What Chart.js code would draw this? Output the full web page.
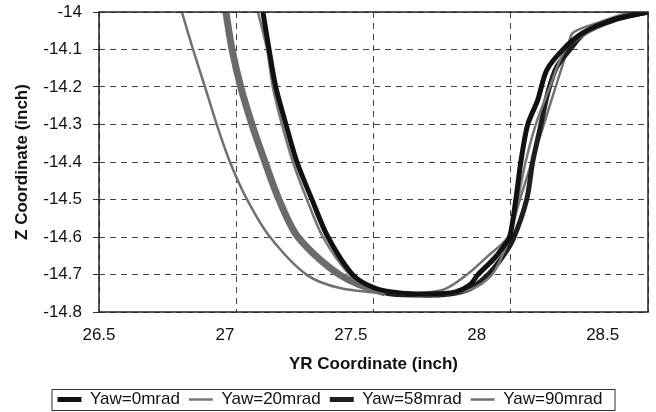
<!DOCTYPE html>
<html>
<head>
<meta charset="utf-8">
<script src="https://cdn.jsdelivr.net/npm/chart.js@4.4.0/dist/chart.umd.min.js"></script>
<style>
  html, body { margin: 0; padding: 0; background: #fff; }
</style>
</head>
<body>
<canvas id="yawChart" width="656" height="412"></canvas>
<script>
// Wheel path profiles (YR vs Z) for four yaw angles
const seriesNames = ['Yaw=0mrad', 'Yaw=20mrad', 'Yaw=58mrad', 'Yaw=90mrad'];
const xTicks = [26.5, 27, 27.5, 28, 28.5];

const yaw0X = [27.151, 27.175, 27.202, 27.242, 27.286, 27.345, 27.409, 27.508, 27.595, 27.694, 27.813, 27.913,
               27.972, 28.004, 28.071, 28.111, 28.131, 28.155, 28.175, 28.202, 28.242, 28.278, 28.341, 28.421, 28.540, 28.679];
const yaw0Z = [-14.000, -14.099, -14.200, -14.299, -14.400, -14.499, -14.600, -14.701, -14.736, -14.749, -14.752, -14.747,
               -14.728, -14.701, -14.656, -14.621, -14.600, -14.501, -14.400, -14.301, -14.235, -14.155, -14.101, -14.056, -14.021, -14.000];

const yaw20X = [27.131, 27.167, 27.190, 27.226, 27.270, 27.325, 27.389, 27.496, 27.583, 27.694, 27.853, 27.972,
                28.060, 28.111, 28.131, 28.163, 28.194, 28.234, 28.290, 28.353, 28.440, 28.548, 28.679];
const yaw20Z = [-14.000, -14.099, -14.200, -14.299, -14.400, -14.499, -14.600, -14.701, -14.736, -14.752, -14.755, -14.741,
                -14.701, -14.635, -14.600, -14.501, -14.400, -14.301, -14.200, -14.099, -14.056, -14.021, -14.003];

const yaw58X = [27.004, 27.028, 27.063, 27.107, 27.159, 27.214, 27.290, 27.456, 27.635, 27.774, 27.893, 27.972,
                28.044, 28.099, 28.143, 28.198, 28.222, 28.250, 28.282, 28.317, 28.369, 28.429, 28.548, 28.679];
const yaw58Z = [-14.000, -14.099, -14.200, -14.299, -14.400, -14.499, -14.600, -14.701, -14.749, -14.755, -14.752, -14.739,
                -14.701, -14.656, -14.608, -14.501, -14.400, -14.315, -14.216, -14.147, -14.101, -14.056, -14.021, -14.000];

const yaw90X = [26.829, 26.873, 26.921, 26.968, 27.020, 27.087, 27.179, 27.325, 27.456, 27.627, 27.774, 27.873,
                27.960, 28.044, 28.123, 28.171, 28.218, 28.266, 28.313, 28.361, 28.381, 28.488, 28.607, 28.679];
const yaw90Z = [-14.000, -14.099, -14.200, -14.301, -14.400, -14.499, -14.600, -14.701, -14.736, -14.749, -14.749, -14.739,
                -14.701, -14.651, -14.600, -14.501, -14.400, -14.301, -14.200, -14.099, -14.056, -14.027, -14.000, -13.987];

const pairs = (xs, zs) => xs.map((x, i) => ({ x: x, y: zs[i] }));

const tickFont = { family: "'Liberation Sans', Arial, sans-serif", size: 17 };
const titleFont = { family: "'Liberation Sans', Arial, sans-serif", size: 17, weight: 'bold' };

// box around the plot area
const plotFrame = {
    id: 'plotFrame',
    afterDatasetsDraw(chart) {
        const { ctx, chartArea: a } = chart;
        ctx.save();
        ctx.strokeStyle = '#222';
        ctx.lineWidth = 1.5;
        ctx.strokeRect(a.left, a.top, a.right - a.left, a.bottom - a.top);
        ctx.restore();
    }
};

// box around the legend entries
const legendFrame = {
    id: 'legendFrame',
    afterDraw(chart) {
        const boxes = chart.legend.legendHitBoxes;
        if (!boxes || !boxes.length) return;
        const left = Math.min(...boxes.map(b => b.left)) - 6;
        const right = Math.max(...boxes.map(b => b.left + b.width)) + 12;
        const top = Math.min(...boxes.map(b => b.top)) - 2;
        const bottom = Math.max(...boxes.map(b => b.top + b.height)) + 2;
        const ctx = chart.ctx;
        ctx.save();
        ctx.strokeStyle = '#333';
        ctx.lineWidth = 1;
        ctx.strokeRect(left + 0.5, top + 0.5, right - left, bottom - top);
        ctx.restore();
    }
};

const ctx = document.getElementById('yawChart').getContext('2d');
const yawChart = new Chart(ctx, {
    type: 'line',
    data: {
        datasets: [{
            label: seriesNames[0],
            data: pairs(yaw0X, yaw0Z),
            borderColor: '#111',
            borderWidth: 5
        }, {
            label: seriesNames[1],
            data: pairs(yaw20X, yaw20Z),
            borderColor: '#777',
            borderWidth: 2.5
        }, {
            label: seriesNames[2],
            data: pairs(yaw58X, yaw58Z),
            borderColor: '#1e1e1e',
            borderWidth: 5,
            segment: {
                borderColor: c => c.p0.parsed.x < 27.62 ? '#6b6b6b' : '#1e1e1e',
                borderWidth: c => c.p0.parsed.x < 27.62 ? 7 : 5
            }
        }, {
            label: seriesNames[3],
            data: pairs(yaw90X, yaw90Z),
            borderColor: '#717171',
            borderWidth: 2.5
        }].map(ds => Object.assign(ds, {
            xAxisID: 'x',
            yAxisID: 'y',
            pointRadius: 0,
            fill: false,
            clip: 0,
            tension: 0.3
        }))
    },
    options: {
        responsive: false,
        animation: false,
        layout: {
            padding: { top: 12, right: 8, left: 12, bottom: 2 }
        },
        scales: {
            x: {
                type: 'linear',
                position: 'bottom',
                min: 26.5,
                max: 28.68,
                afterBuildTicks: scale => {
                    scale.ticks = xTicks.map(v => ({ value: v }));
                },
                afterFit: scale => {
                    scale.height = 70;
                },
                ticks: {
                    font: tickFont,
                    color: '#111',
                    padding: 13,
                    maxRotation: 0,
                    callback: v => String(v)
                },
                grid: { drawOnChartArea: false, drawTicks: false },
                border: { display: false },
                title: {
                    display: true,
                    text: 'YR Coordinate (inch)',
                    font: titleFont,
                    color: '#111',
                    padding: { top: 0, bottom: 7 }
                }
            },
            xg: {
                type: 'linear',
                position: 'top',
                min: 26.5,
                max: 28.5,
                ticks: { display: false, stepSize: 0.5 },
                grid: { drawTicks: false, color: '#444', lineWidth: 1 },
                border: { display: false, dash: [6, 5] }
            },
            y: {
                min: -14.8,
                max: -14,
                afterFit: scale => {
                    scale.width = 87;
                    scale.paddingTop = 0;
                    scale.paddingBottom = 0;
                },
                ticks: {
                    stepSize: 0.1,
                    font: tickFont,
                    color: '#111',
                    padding: 11,
                    callback: v => v.toFixed(1).replace(/\.0$/, '')
                },
                grid: { color: '#444', lineWidth: 1, tickLength: 6, tickColor: '#333', tickBorderDash: [] },
                border: { display: false, dash: [6, 5] },
                title: {
                    display: true,
                    text: 'Z Coordinate (inch)',
                    font: titleFont,
                    color: '#111',
                    padding: { top: 0, bottom: 0 }
                }
            }
        },
        plugins: {
            legend: {
                position: 'bottom',
                maxHeight: 28,
                labels: {
                    font: tickFont,
                    color: '#111',
                    usePointStyle: true,
                    pointStyle: 'line',
                    pointStyleWidth: 24,
                    padding: 9
                }
            },
            tooltip: { enabled: false }
        }
    },
    plugins: [plotFrame, legendFrame]
});
</script>
</body>
</html>
